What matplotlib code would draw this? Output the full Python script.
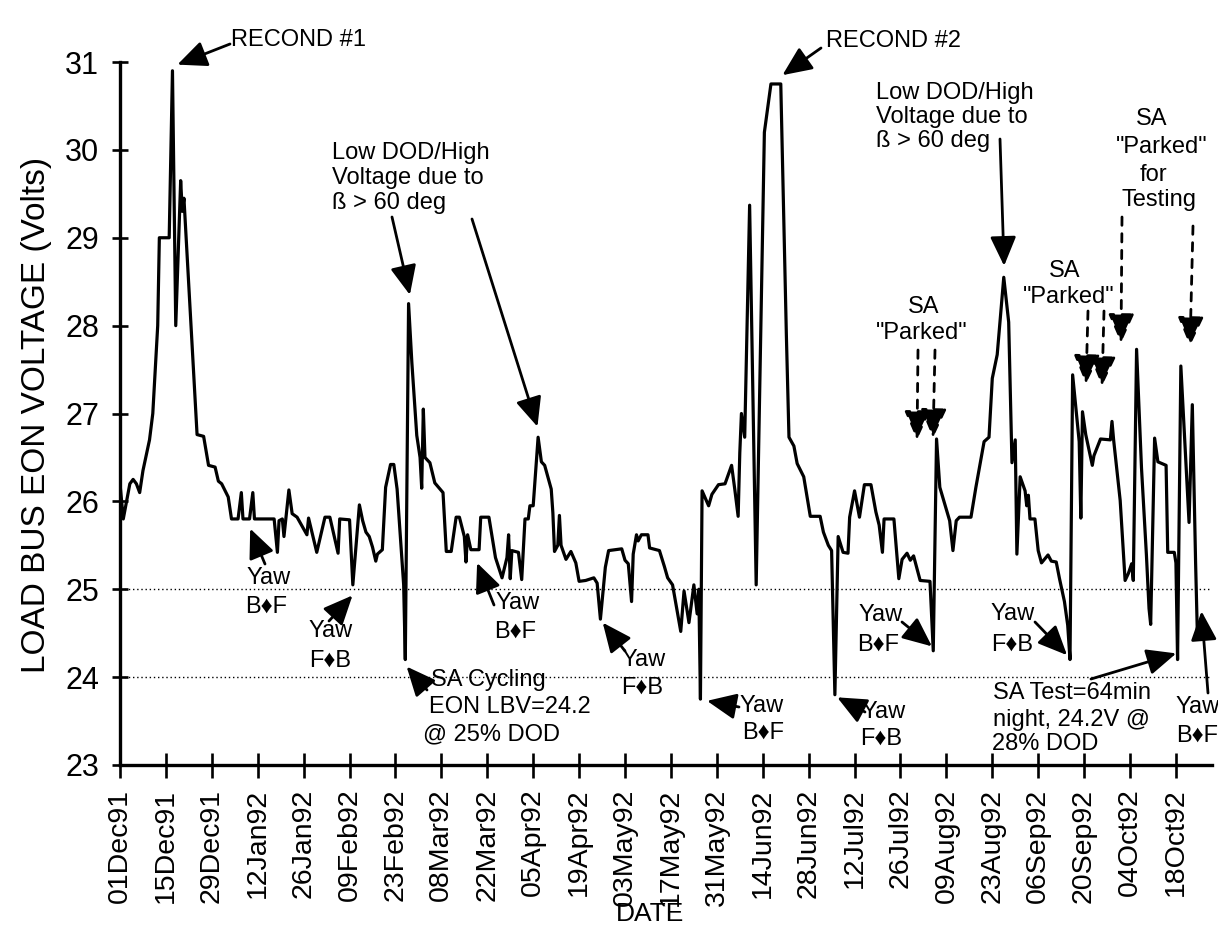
import numpy as np
import matplotlib
matplotlib.use("Agg")
import matplotlib.pyplot as plt

plt.rcParams["font.family"] = ["Liberation Sans", "DejaVu Sans"]

W, H = 1218, 926

# End-of-night LOAD BUS voltage; day counted from 01 Dec 1991
dec_feb_day = [0, 1, 3, 4, 5, 6, 7, 9, 10, 11.5, 12, 15, 16, 17, 18.5, 19, 19.5, 21.5,
               23.5, 25.5, 27, 29, 30, 31, 33, 34, 36, 37, 37.5, 39.5, 40.5, 41, 47, 48,
               48.5, 49.5, 50, 51.5, 52.5, 54, 57, 57.5, 60, 62.5, 64, 66.5, 67, 70, 71,
               73, 74, 75, 76, 77, 78, 78.5, 80, 81, 82.5, 83.5, 84.5, 86.5, 87, 88, 89,
               90.5]
dec_feb_volt = [26.2, 25.8, 26.2, 26.25, 26.2, 26.1, 26.35, 26.7, 27.0, 28.0, 29.0, 29.0,
                30.9, 28.0, 29.65, 29.3, 29.45, 28.1, 26.76, 26.74, 26.41, 26.39, 26.23,
                26.2, 26.05, 25.8, 25.8, 26.1, 25.8, 25.8, 26.1, 25.8, 25.8, 25.42, 25.78,
                25.8, 25.6, 26.13, 25.86, 25.82, 25.62, 25.81, 25.42, 25.82, 25.82, 25.41,
                25.8, 25.79, 25.05, 25.96, 25.78, 25.65, 25.6, 25.48, 25.32, 25.4, 25.45,
                26.16, 26.42, 26.42, 26.14, 25.05, 24.2, 28.25, 27.58, 26.75]

mar_may_day = [91.5, 92, 92.5, 93, 94.5, 96, 98.5, 99.5, 101, 102.5, 103.5, 105, 105.5,
               106, 107, 109.5, 110, 112.5, 114.5, 116.5, 118, 118.5, 119, 119.5, 121.5,
               122.5, 123.5, 124.5, 125, 126, 127.5, 128.5, 129.5, 131.5, 132, 132.5,
               133.5, 134, 134.5, 136, 137.5, 139, 140, 142, 144.5, 145.5, 146.5, 148,
               149, 153, 154, 155, 156, 156.5, 157.5, 158, 159, 161, 161.5, 164.5, 166,
               167, 168.5, 171, 172, 173.5, 175, 176, 176.5, 177, 177.5, 179.5, 180.5,
               182.5]
mar_may_volt = [26.5, 26.15, 27.05, 26.5, 26.44, 26.21, 26.1, 25.43, 25.43, 25.82, 25.82,
                25.6, 25.31, 25.62, 25.45, 25.45, 25.82, 25.82, 25.36, 25.13, 25.36, 25.62,
                25.12, 25.44, 25.42, 25.11, 25.8, 25.8, 25.95, 25.95, 26.73, 26.45, 26.41,
                26.14, 25.87, 25.43, 25.5, 25.84, 25.5, 25.34, 25.43, 25.3, 25.09, 25.1,
                25.13, 25.07, 24.66, 25.25, 25.44, 25.46, 25.33, 25.29, 24.86, 25.4, 25.62,
                25.55, 25.62, 25.62, 25.47, 25.44, 25.26, 25.13, 25.05, 24.52, 24.98,
                24.62, 25.05, 24.72, 25.0, 23.75, 26.12, 25.95, 26.08, 26.19]

jun_aug_day = [184.5, 186.5, 187.5, 188.5, 189, 189.5, 190.5, 192, 194, 196.5, 198.5,
               201.5, 203.2, 204, 205.5, 206.5, 208.5, 210.5, 213.5, 214.5, 216, 217, 218,
               219, 220.5, 222, 222.5, 224, 225.5, 227, 229, 230.5, 231.5, 232.5, 233, 236,
               237.5, 238.5, 240, 241, 242, 244, 247, 248, 249, 250, 253, 254, 255, 256,
               259.5, 261, 263.5, 265, 266, 267.5, 269.5, 271, 272, 273, 273.5, 274.5]
jun_aug_volt = [26.2, 26.41, 26.13, 25.83, 26.55, 27.0, 26.73, 29.37, 25.05, 30.2, 30.75,
                30.75, 27.9, 26.73, 26.63, 26.43, 26.28, 25.83, 25.83, 25.65, 25.5, 25.44,
                23.8, 25.6, 25.42, 25.41, 25.82, 26.12, 25.82, 26.19, 26.19, 25.88, 25.73,
                25.42, 25.8, 25.8, 25.12, 25.34, 25.41, 25.33, 25.38, 25.1, 25.09, 24.3,
                26.71, 26.16, 25.78, 25.44, 25.78, 25.82, 25.82, 26.16, 26.68, 26.73, 27.4,
                27.67, 28.55, 28.04, 26.44, 26.7, 25.4, 26.28]

sep_oct_day = [276, 276.5, 277, 277.5, 279, 280, 281, 283, 284, 285.5, 286.5, 288, 289,
               289.7, 290.5, 291.5, 292.5, 293, 293.5, 294.5, 296.5, 297, 299, 302, 302.5,
               303, 305, 306.5, 307.5, 308.5, 309, 310, 311.5, 313, 313.8, 314.3, 315.5,
               316.5, 319, 319.5, 321.5, 322, 322.5, 323.5, 324.5, 326, 327, 328, 328.5,
               331]
sep_oct_volt = [26.12, 25.95, 26.07, 25.8, 25.8, 25.44, 25.3, 25.39, 25.32, 25.31, 25.12,
                24.86, 24.59, 24.2, 27.44, 27.06, 26.68, 25.81, 27.02, 26.76, 26.41, 26.52,
                26.71, 26.7, 26.91, 26.7, 26.01, 25.1, 25.18, 25.29, 25.1, 27.73, 26.38,
                25.39, 24.78, 24.6, 26.72, 26.45, 26.41, 25.42, 25.42, 25.3, 24.2, 27.54,
                26.82, 25.76, 27.1, 25.3, 24.54, 24.54]

tick_labels = ["01Dec91", "15Dec91", "29Dec91", "12Jan92", "26Jan92", "09Feb92",
               "23Feb92", "08Mar92", "22Mar92", "05Apr92", "19Apr92", "03May92",
               "17May92", "31May92", "14Jun92", "28Jun92", "12Jul92", "26Jul92",
               "09Aug92", "23Aug92", "06Sep92", "20Sep92", "04Oct92", "18Oct92"]
tick_step_days = 14
volt_ticks = list(range(23, 32))
guide_volts = [24, 25]

days = np.concatenate([dec_feb_day, mar_may_day, jun_aug_day, sep_oct_day])
volts = np.concatenate([dec_feb_volt, mar_may_volt, jun_aug_volt, sep_oct_volt])

fig = plt.figure(figsize=(W / 100, H / 100), dpi=100)
ax = fig.add_axes([120 / W, 1 - 765 / H, 1092 / W, 703 / H])

for gv in guide_volts:
    ax.axhline(gv, color="black", lw=1.0, ls=(0, (1, 2)), zorder=1)
ax.plot(days, volts, color="black", lw=2.3, solid_joinstyle="round", zorder=3)

ax.set_xlim(0, 333)
ax.set_ylim(23, 31)
for side in ("top", "right"):
    ax.spines[side].set_visible(False)
for side in ("left", "bottom"):
    ax.spines[side].set_linewidth(2.4)

ax.set_xticks(np.arange(len(tick_labels)) * tick_step_days)
ax.set_xticklabels(tick_labels, rotation=90, fontsize=20.5)
ax.set_yticks(volt_ticks)
ax.set_yticklabels([str(v) for v in volt_ticks], fontsize=22)
ax.tick_params(axis="x", direction="inout", length=18, width=1.9, pad=8)
ax.tick_params(axis="y", direction="inout", length=12, width=1.9, pad=9)

fig.text(37 / W, 1 - 415 / H, "LOAD BUS EON VOLTAGE (Volts)", rotation=90,
         ha="center", va="center", fontsize=24)
fig.text(650 / W, 1 - 914 / H, "DATE", ha="center", va="center", fontsize=19)

FS = 17


def note(text, x, y, ha="center", **kw):
    fig.text(x / W, 1 - y / H, text, ha=ha, va="center", fontsize=FS, **kw)


def pointer(tail, tip, dashed=False, tip_in_pixels=False):
    props = dict(arrowstyle="-|>,head_length=0.9,head_width=0.4", color="black",
                 lw=2.0, shrinkA=0, shrinkB=0, mutation_scale=20)
    if dashed:
        props["linestyle"] = (0, (3, 3))
    if tip_in_pixels:
        xy, xyc = (tip[0], H - tip[1]), "figure pixels"
    else:
        xy, xyc = tip, "data"
    ax.annotate("", xy=xy, xycoords=xyc, xytext=(tail[0], H - tail[1]),
                textcoords="figure pixels", arrowprops=props, annotation_clip=False)


# reconditioning peaks
note("RECOND #1", 231, 40, ha="left")
pointer((230, 44), (17.5, 30.97))
note("RECOND #2", 826, 41, ha="left")
pointer((821, 48), (202.0, 30.85))

# high beta angle periods
note("Low DOD/High\nVoltage due to\n\u00df > 60 deg", 332, 178, ha="left", linespacing=1.15)
pointer((392, 217), (88.4, 28.35))
pointer((472, 219), (127.3, 26.85))
note("Low DOD/High\nVoltage due to\n\u00df > 60 deg", 876, 117, ha="left", linespacing=1.1)
pointer((1000, 139), (269.6, 28.68))

# solar array parking
note("SA", 924, 307)
note("\"Parked\"", 922, 333)
pointer((918, 350), (917, 440), dashed=True, tip_in_pixels=True)
pointer((935, 350), (933, 438), dashed=True, tip_in_pixels=True)
note("SA", 1065, 271)
note("\"Parked\"", 1069, 297)
pointer((1088, 311), (1086, 384), dashed=True, tip_in_pixels=True)
pointer((1104, 311), (1102, 386), dashed=True, tip_in_pixels=True)
note("SA", 1152, 119)
note("\"Parked\"", 1162, 147)
note("for", 1153, 175)
note("Testing", 1159, 200)
pointer((1122, 217), (1121, 343), dashed=True, tip_in_pixels=True)
pointer((1193, 226), (1190, 346), dashed=True, tip_in_pixels=True)

# yaw manoeuvres
yaw_notes = [
    ("B\u2666F", 269, 578, 266, 607, (265, 564), (39.7, 25.69)),
    ("F\u2666B", 331, 631, 330, 661, (329, 621), (70.9, 24.93)),
    ("B\u2666F", 518, 603, 515, 632, (494, 605), (108.9, 25.3)),
    ("F\u2666B", 644, 660, 642, 688, (625, 651), (147.2, 24.62)),
    ("B\u2666F", 762, 706, 763, 733, (739, 707), (179.0, 23.73)),
    ("F\u2666B", 884, 712, 881, 739, (865, 712), (218.7, 23.77)),
    ("B\u2666F", 881, 615, 878, 645, (902, 622), (247.6, 24.35)),
    ("F\u2666B", 1013, 614, 1012, 645, (1035, 622), (288.8, 24.25)),
    ("B\u2666F", 1198, 707, 1197, 736, (1208, 693), (329.8, 24.75)),
]
for sense, yx, yy, sx, sy, tail, tip in yaw_notes:
    note("Yaw", yx, yy)
    note(sense, sx, sy)
    pointer(tail, tip)

# battery test notes
note("SA Cycling", 431, 680, ha="left")
note("EON LBV=24.2", 429, 707, ha="left")
note("@ 25% DOD", 423, 734, ha="left")
pointer((427, 690), (87.4, 24.12))
note("SA Test=64min", 993, 693, ha="left")
note("night, 24.2V @", 993, 720, ha="left")
note("28% DOD", 992, 744, ha="left")
pointer((1091, 679), (322.1, 24.27))

fig.savefig("out.png", dpi=100)
